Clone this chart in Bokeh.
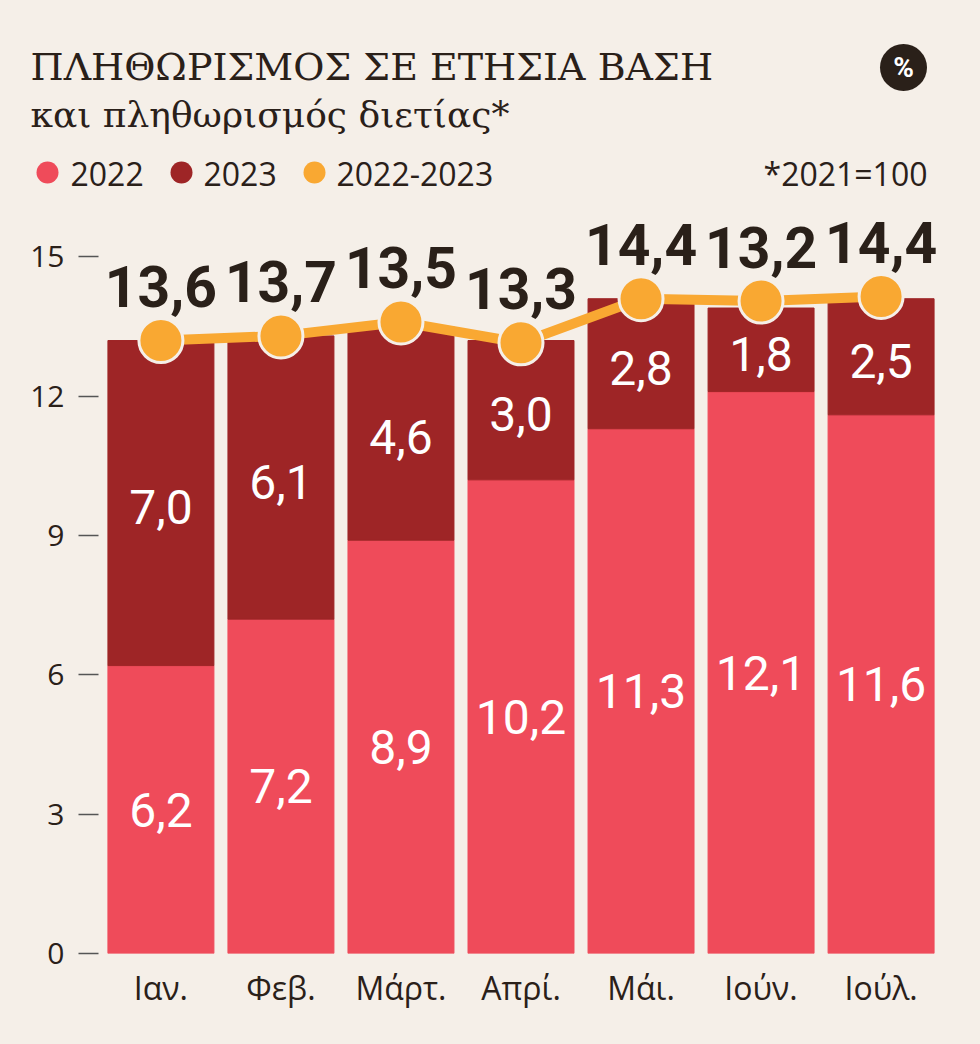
from bokeh.plotting import figure
from bokeh.models import ColumnDataSource, FactorRange, Range1d, FixedTicker
from bokeh.layouts import column
from bokeh.core.properties import value
from bokeh.embed import file_html
from bokeh.resources import INLINE

# ---- data ----
months = ["Ιαν.", "Φεβ.", "Μάρτ.", "Απρί.", "Μάι.", "Ιούν.", "Ιούλ."]
infl_2022 = [6.2, 7.2, 8.9, 10.2, 11.3, 12.1, 11.6]
infl_2023 = [7.0, 6.1, 4.6, 3.0, 2.8, 1.8, 2.5]
biennial_labels = ["13,6", "13,7", "13,5", "13,3", "14,4", "13,2", "14,4"]
biennial_marker = [13.2, 13.3, 13.6, 13.15, 14.1, 14.05, 14.15]
y_ticks = [0, 3, 6, 9, 12, 15]
legend_names = ["2022", "2023", "2022-2023"]

BG = "#f5efe8"
C2022 = "#ef4b5a"
C2023 = "#9e2526"
CLINE = "#f9a832"
INK = "#2a2019"
NUM = "Roboto"
SANS = "Open Sans"
SERIF = "DejaVu Serif"

def fmt(v):
    return f"{v:.1f}".replace(".", ",")

# ---- header ----
h = figure(width=980, height=200, x_range=Range1d(0, 980), y_range=Range1d(200, 0),
           output_backend="svg", toolbar_location=None, min_border=0,
           x_axis_location=None, y_axis_location=None)
h.frame_align = False
h.background_fill_color = BG
h.border_fill_color = BG
h.outline_line_color = None
h.grid.visible = False

h.text(x=[30], y=[66], text=["ΠΛΗΘΩΡΙΣΜΟΣ ΣΕ ΕΤΗΣΙΑ ΒΑΣΗ"], text_font=value(SERIF),
       text_font_size="38px", text_color=INK, text_baseline="alphabetic")
h.text(x=[30], y=[114], text=["και πληθωρισμός διετίας*"], text_font=value(SERIF),
       text_font_size="36px", text_color=INK, text_baseline="alphabetic")
h.scatter(x=[903], y=[67], size=47, fill_color=INK, line_color=None)
h.text(x=[903], y=[67], text=["%"], text_font=value(NUM), text_font_style="bold",
       text_font_size="28px", text_color="white", text_align="center", text_baseline="middle")

leg_colors = [C2022, C2023, CLINE]
h.scatter(x=[47, 181, 314], y=[172] * 3, size=22, fill_color=leg_colors, line_color=None)
h.text(x=[70, 203, 336], y=[173] * 3, text=legend_names, text_font=value(SANS),
       text_font_size="32px", text_color=INK, text_baseline="alphabetic")
h.text(x=[927], y=[173], text=["*2021=100"], text_font=value(SANS),
       text_font_size="32px", text_color=INK, text_baseline="alphabetic", text_align="right")

# ---- main chart ----
src = ColumnDataSource(dict(
    month=months,
    y2022=infl_2022,
    y2023=infl_2023,
    mid2022=[a / 2 for a in infl_2022],
    mid2023=[a + b / 2 for a, b in zip(infl_2022, infl_2023)],
    lbl2022=[fmt(v) for v in infl_2022],
    lbl2023=[fmt(v) for v in infl_2023],
    marker=biennial_marker,
    lbl2y=biennial_labels,
))

p = figure(x_range=FactorRange(factors=months, range_padding=0.02, range_padding_units="absolute"),
           y_range=Range1d(0, 16.0), frame_width=845, frame_height=743,
           min_border_left=98, min_border_right=37, min_border_top=10, min_border_bottom=91,
           output_backend="svg", toolbar_location=None)
p.frame_align = False
p.background_fill_color = BG
p.border_fill_color = BG
p.outline_line_color = None
p.grid.visible = False

p.vbar_stack(["y2022", "y2023"], x="month", width=0.883, color=[C2022, C2023], source=src)

p.text(x="month", y="mid2022", text="lbl2022", source=src, text_font=value(NUM),
       text_font_size="48px", text_color="white", text_align="center", text_baseline="middle")
p.text(x="month", y="mid2023", text="lbl2023", source=src, text_font=value(NUM),
       text_font_size="48px", text_color="white", text_align="center", text_baseline="middle",
       y_offset=4)

p.line(x="month", y="marker", source=src, line_color=CLINE, line_width=10)
p.scatter(x="month", y="marker", source=src, size=44, fill_color=CLINE, line_color=BG, line_width=3)
p.text(x="month", y="marker", text="lbl2y", source=src, text_font=value(NUM),
       text_font_style="bold", text_font_size="57px", text_color=INK, text_align="center",
       text_baseline="alphabetic", y_offset=-54)

p.yaxis.ticker = FixedTicker(ticks=y_ticks)
p.yaxis.axis_line_color = None
p.yaxis.major_tick_in = 0
p.yaxis.major_tick_out = 20
p.yaxis.major_tick_line_color = "#555555"
p.yaxis.major_tick_line_width = 1.5
p.yaxis.minor_tick_line_color = None
p.yaxis.major_label_standoff = 14
p.yaxis.major_label_text_font = SANS
p.yaxis.major_label_text_font_size = "30px"
p.yaxis.major_label_text_color = INK

p.xaxis.axis_line_color = None
p.xaxis.major_tick_line_color = None
p.xaxis.minor_tick_line_color = None
p.xaxis.major_label_standoff = 6
p.xaxis.major_label_text_font = SANS
p.xaxis.major_label_text_font_size = "32px"
p.xaxis.major_label_text_color = INK

layout = column(h, p, spacing=0)
layout.styles = {"background-color": BG}
html = file_html(layout, INLINE)
html = html.replace("<body>", '<body style="margin:0;background-color:%s;">' % BG, 1)
open("out.html", "w").write(html)
